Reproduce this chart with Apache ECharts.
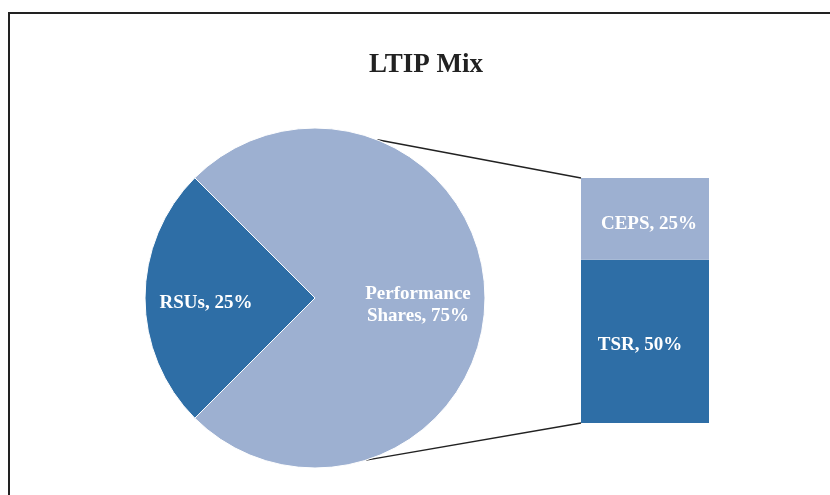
<!DOCTYPE html>
<html>
<head>
<meta charset="utf-8">
<script src="https://cdn.jsdelivr.net/npm/echarts@6/dist/echarts.min.js"></script>
<style>
html,body{margin:0;padding:0;background:#fff;}
#c{width:830px;height:495px;}
</style>
</head>
<body>
<div id="c"></div>
<script>
const titleText = 'LTIP Mix';
const pieCategories = ['RSUs', 'Performance Shares'];
const pieValues = [25, 75];
const barCategories = ['TSR', 'CEPS'];
const barValues = [50, 25];

const DARK = '#2E6EA6';
const LIGHT = '#9DB0D1';
const FONT = 'Liberation Serif';

const PIE_CX = 315, PIE_CY = 298, PIE_R = 170;
const GRID = {left: 581, top: 178, width: 128, height: 245};

const chart = echarts.init(document.getElementById('c'), null, {renderer: 'canvas'});

const barTotal = barValues.reduce((a, b) => a + b, 0);

// connector lines from the pie edge to the bar's top-left and bottom-left corners
// (y axis spans 0..barTotal over the full grid height)
const topY = GRID.top, botY = GRID.top + GRID.height;
const aTop = 68.5 * Math.PI / 180, aBot = -72.5 * Math.PI / 180;
const pTop = [PIE_CX + PIE_R * Math.cos(aTop), PIE_CY - PIE_R * Math.sin(aTop)];
const pBot = [PIE_CX + PIE_R * Math.cos(aBot), PIE_CY - PIE_R * Math.sin(aBot)];

chart.setOption({
  animation: false,
  backgroundColor: '#fff',
  title: {
    text: titleText,
    left: 421,
    top: 47,
    textAlign: 'center',
    textStyle: {fontFamily: FONT, fontWeight: 'bold', fontSize: 27, color: '#222'}
  },
  grid: GRID,
  xAxis: {type: 'category', data: ['Performance Shares'], show: false},
  yAxis: {type: 'value', min: 0, max: barTotal, show: false},
  graphic: [
    {type: 'rect', shape: {x: 9, y: 13, width: 900, height: 600},
     style: {fill: 'none', stroke: '#222', lineWidth: 2}, silent: true},
    {type: 'line', shape: {x1: pTop[0], y1: pTop[1], x2: GRID.left, y2: topY},
     style: {stroke: '#222', lineWidth: 1.5}, silent: true},
    {type: 'line', shape: {x1: pBot[0], y1: pBot[1], x2: GRID.left, y2: botY},
     style: {stroke: '#222', lineWidth: 1.5}, silent: true}
  ],
  series: [
    {
      type: 'pie',
      center: [PIE_CX, PIE_CY],
      radius: [0, PIE_R],
      startAngle: 225,
      clockwise: true,
      silent: true,
      itemStyle: {borderColor: '#fff', borderWidth: 1},
      label: {
        show: true,
        position: 'inside',
        color: '#fff',
        fontFamily: FONT,
        fontWeight: 'bold',
        fontSize: 19,
        lineHeight: 22,
        formatter: p => p.name.replace(' ', '\n') + ', ' + p.value + '%'
      },
      labelLine: {show: false},
      labelLayout: p => p.dataIndex === 0 ? {dx: -21, dy: 5} : {dx: 15, dy: 7},
      data: pieCategories.map((n, i) => ({
        name: n, value: pieValues[i],
        itemStyle: {color: i === 0 ? DARK : LIGHT}
      }))
    },
    ...barCategories.map((n, i) => ({
      type: 'bar',
      name: n,
      stack: 'ps',
      barWidth: '100%',
      silent: true,
      itemStyle: {color: i === 0 ? DARK : LIGHT},
      label: {
        show: true,
        position: 'inside',
        color: '#fff',
        fontFamily: FONT,
        fontWeight: 'bold',
        fontSize: 19,
        offset: i === 0 ? [-5, 4] : [4, 5],
        formatter: p => n + ', ' + p.value + '%'
      },
      data: [barValues[i]]
    }))
  ]
});
</script>
</body>
</html>
